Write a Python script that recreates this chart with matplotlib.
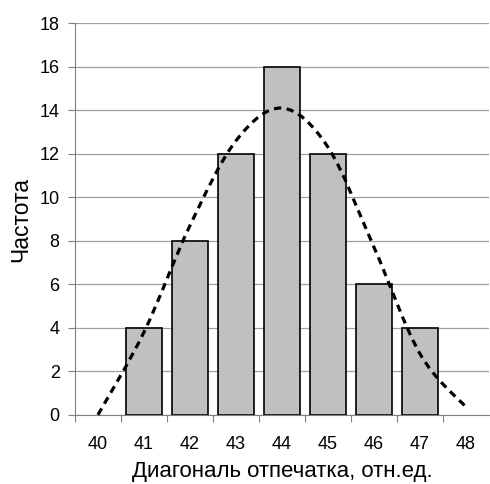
import numpy as np
import matplotlib.pyplot as plt
from matplotlib.path import Path
from matplotlib.patches import PathPatch

plt.rcParams['font.family'] = ['Liberation Sans', 'DejaVu Sans']
plt.rcParams['font.size'] = 13

# data
categories = ['40', '41', '42', '43', '44', '45', '46', '47', '48']
bar_cats = ['41', '42', '43', '44', '45', '46', '47']
counts = [4, 8, 12, 16, 12, 6, 4]
fit = [0.0, 3.8, 8.7, 12.6, 14.1, 12.3, 7.7, 2.8, 0.35]

fig = plt.figure(figsize=(4.9, 4.84), dpi=100)
ax = fig.add_axes([0.153, 0.143, 0.845, 0.809])

x = np.arange(len(categories))
bx = [categories.index(c) for c in bar_cats]
ax.bar(bx, counts, width=0.78, color='#c0c0c0', edgecolor='black', linewidth=1.2, zorder=2)

# smoothed fit line (catmull-rom -> bezier)
pts = np.column_stack([x, fit]).astype(float)
verts = [pts[0]]
codes = [Path.MOVETO]
for i in range(len(pts) - 1):
    p0 = pts[max(i - 1, 0)]
    p1 = pts[i]
    p2 = pts[i + 1]
    p3 = pts[min(i + 2, len(pts) - 1)]
    c1 = p1 + (p2 - p0) / 6
    c2 = p2 - (p3 - p1) / 6
    verts += [c1, c2, p2]
    codes += [Path.CURVE4] * 3
patch = PathPatch(Path(verts, codes), fill=False, edgecolor='black', linewidth=2.3,
                  linestyle=(0, (2.3, 1.7)), zorder=3, clip_on=False)
ax.add_patch(patch)

ax.set_xlim(-0.5, len(categories) - 0.5)
ax.set_ylim(0, 18)
ax.set_yticks(range(0, 19, 2))
ax.yaxis.grid(True, color='#a0a0a0', linewidth=0.9, zorder=0)
ax.set_axisbelow(True)

ax.set_xticks(np.arange(-0.5, len(categories) - 0.5, 1.0))
ax.set_xticklabels([])
ax.set_xticks(x, minor=True)
ax.set_xticklabels(categories, minor=True)
ax.tick_params(axis='x', which='major', length=5, color='#808080')
ax.tick_params(axis='x', which='minor', length=0, pad=15)
ax.tick_params(axis='y', length=5, color='#808080', pad=6)

for s in ['top', 'right']:
    ax.spines[s].set_visible(False)
for s in ['left', 'bottom']:
    ax.spines[s].set_color('#808080')

ax.set_xlabel('Диагональ отпечатка, отн.ед.', fontsize=16)
ax.xaxis.set_label_coords(0.5, -0.117)
ax.set_ylabel('Частота', fontsize=16.5, labelpad=5)

fig.savefig('out.png', dpi=100)
